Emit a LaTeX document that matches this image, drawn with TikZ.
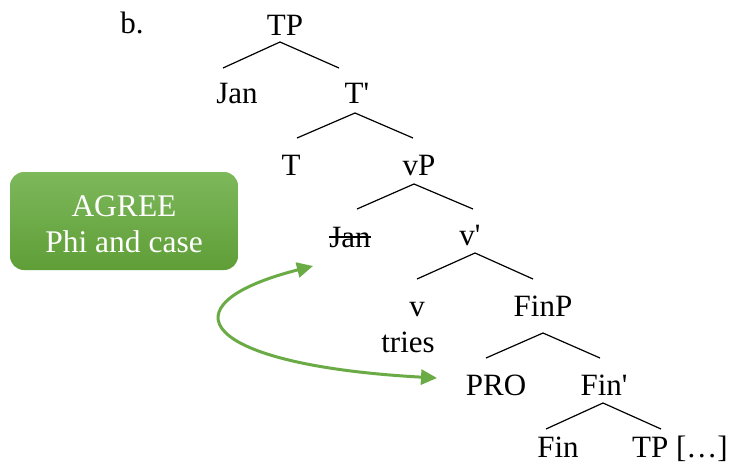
\documentclass[tikz,border=0pt]{standalone}
\usepackage{fontspec}
\setmainfont{Liberation Serif}
\newfontfamily\treefont{Liberation Serif}
\usepackage{xcolor}
\usepackage{tikz}
\usetikzlibrary{arrows.meta, calc}

\definecolor{agreetop}{HTML}{7DB85B}
\definecolor{agreebot}{HTML}{5F9E37}
\definecolor{agreeline}{HTML}{6AAB45}

\begin{document}
\begin{tikzpicture}[
    x=1pt, y=-1pt,
    w/.style={anchor=base, inner sep=0pt, font=\treefont\fontsize{31}{36}\selectfont},
    branch/.style={line width=1.2pt},
    agree/.style={rectangle, rounded corners=14pt, top color=agreetop, bottom color=agreebot, draw=none,
                  minimum width=228pt, minimum height=98pt},
    agreetext/.style={align=center, text=white, inner sep=0pt, font=\treefont\fontsize{31.5}{36}\selectfont},
    agreearr/.style={{Triangle[length=16pt,width=15pt]}-{Triangle[length=16pt,width=15pt]}, line width=3pt, draw=agreeline},
  ]
    \useasboundingbox (0,0) rectangle (736,474);

    % label
    \node[w] (ex) at (132,33) {b.};

    % TP
    \node[w] (tp) at (285,35) {TP};
    \node[w] (jan) at (237,103) {Jan};
    \node[w] (tbar) at (357,103) {T\textquotesingle};
    \draw[branch] ([shift={(-5,7)}]tp.base) -- ([shift={(-14,-35)}]jan.base);
    \draw[branch] ([shift={(-5,7)}]tp.base) -- ([shift={(-18,-35)}]tbar.base);

    % T'
    \node[w] (t) at (291,175) {T};
    \node[w] (vp) at (419,175) {vP};
    \draw[branch] ([shift={(-2,10)}]tbar.base) -- ([shift={(6,-37)}]t.base);
    \draw[branch] ([shift={(-2,10)}]tbar.base) -- ([shift={(-6,-37)}]vp.base);

    % vP, with the copy of Jan struck out
    \node[w] (jancopy) at (350,247) {Jan};
    \node[w] (vbar) at (470,245) {v\textquotesingle};
    \draw[branch] ([shift={(-5,9)}]vp.base) -- ([shift={(7,-38)}]jancopy.base);
    \draw[branch] ([shift={(-5,9)}]vp.base) -- ([shift={(3,-36)}]vbar.base);
    \draw[line width=1.2pt] ([yshift=10pt]jancopy.base west) -- ([yshift=10pt]jancopy.base east);

    % v'
    \node[w] (v) at (417,316) {v};
    \node[w] (tries) at (408,352) {tries};
    \node[w] (finp) at (543,316) {FinP};
    \draw[branch] ([shift={(5,8)}]vbar.base) -- ([shift={(0,-37)}]v.base);
    \draw[branch] ([shift={(5,8)}]vbar.base) -- ([shift={(-10,-37)}]finp.base);

    % FinP
    \node[w] (pro) at (496,395) {PRO};
    \node[w] (finbar) at (604,395) {Fin\textquotesingle};
    \draw[branch] ([shift={(0,17)}]finp.base) -- ([shift={(-10,-37)}]pro.base);
    \draw[branch] ([shift={(0,17)}]finp.base) -- ([shift={(-4,-37)}]finbar.base);

    % Fin'
    \node[w] (fin) at (558,457) {Fin};
    \node[w] (tplow) at (680,457) {TP […]};
    \draw[branch] ([shift={(-1,8)}]finbar.base) -- ([shift={(-12,-28)}]fin.base);
    \draw[branch] ([shift={(-1,8)}]finbar.base) -- ([shift={(-19,-28)}]tplow.base);

    % AGREE box and arrow
    \node[agree] (agreebox) at (124,221) {};
    \node[agreetext] (agreelbl) at ([yshift=-3pt]agreebox.center) {AGREE\\Phi and case};
    \coordinate (agreeA) at ([shift={(-37,19)}]jancopy.base);
    \coordinate (agreeB) at ([shift={(-59,-17)}]pro.base);
    \draw[agreearr] (agreeA) .. controls (160,305) and (200,365) .. (agreeB);
\end{tikzpicture}
\end{document}
